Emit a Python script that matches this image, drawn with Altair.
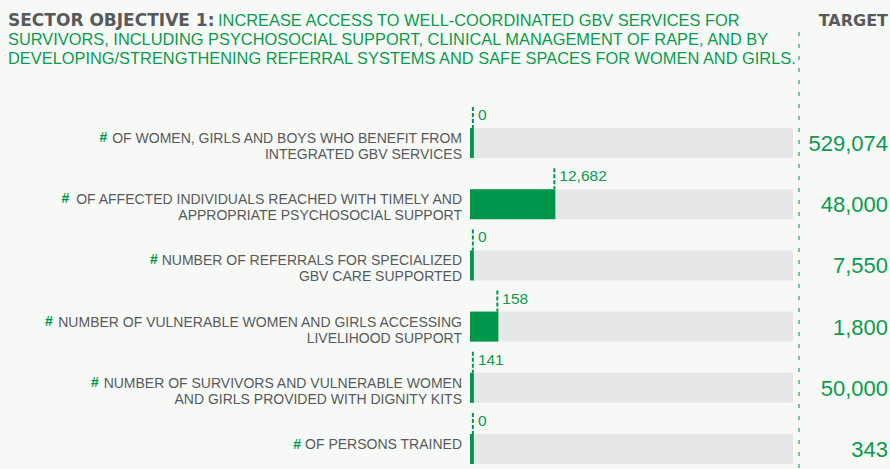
import altair as alt
import pandas as pd

# ---- data ----
label_lines = [
    ["OF WOMEN, GIRLS AND BOYS WHO BENEFIT FROM", "INTEGRATED GBV SERVICES"],
    ["OF AFFECTED INDIVIDUALS REACHED WITH TIMELY AND", "APPROPRIATE PSYCHOSOCIAL SUPPORT"],
    ["NUMBER OF REFERRALS FOR SPECIALIZED", "GBV CARE SUPPORTED"],
    ["NUMBER OF VULNERABLE WOMEN AND GIRLS ACCESSING", "LIVELIHOOD SUPPORT"],
    ["NUMBER OF SURVIVORS AND VULNERABLE WOMEN", "AND GIRLS PROVIDED WITH DIGNITY KITS"],
    ["OF PERSONS TRAINED"],
]
reached = [0, 12682, 0, 158, 141, 0]
targets = [529074, 48000, 7550, 1800, 50000, 343]

title_bold = "SECTOR OBJECTIVE 1:"
title_lines = [
    "INCREASE ACCESS TO WELL-COORDINATED GBV SERVICES FOR",
    "SURVIVORS, INCLUDING PSYCHOSOCIAL SUPPORT, CLINICAL MANAGEMENT OF RAPE, AND BY",
    "DEVELOPING/STRENGTHENING REFERRAL SYSTEMS AND SAFE SPACES FOR WOMEN AND GIRLS.",
]
target_header = "TARGET"

GREEN = "#00964b"
GREEN_TXT = "#0c9b4e"
GREY_TXT = "#58595b"
TRACK = "#e6e7e9"
BG = "#f6f9f6"

LABEL_FS = 14
LABEL_RIGHT = 462

# Arial / Liberation Sans advance widths (per 1000 em) to place the green "#"
W = {c: 667 for c in "ABEKPSVXY"}
W.update({"C": 722, "D": 722, "H": 722, "N": 722, "R": 722, "U": 722, "F": 611,
          "T": 611, "Z": 611, "G": 778, "O": 778, "Q": 778, "I": 278, "J": 500,
          "L": 556, "M": 833, "W": 944, " ": 278, ",": 278, ".": 278, "/": 278,
          "-": 333, ":": 278, "#": 556})


def text_width(s, fs):
    return sum(W.get(ch, 600) for ch in s) * fs / 1000.0


MIN_SHARE = 0.012
rows = []
for i, (lines, a, t) in enumerate(zip(label_lines, reached, targets)):
    share = a / t
    rows.append({
        "row": i,
        "label": "\n".join(lines),
        "nlines": len(lines),
        "hash_x": LABEL_RIGHT - text_width(lines[0], LABEL_FS) - text_width(" ", LABEL_FS),
        "start": 0.0,
        "full": 1.0,
        "share": max(share, MIN_SHARE),
        "reached_txt": f"{a:,}",
        "target_txt": f"{t:,}",
    })
df = pd.DataFrame(rows)

xs = alt.Scale(domain=[0, 1], range=[470, 793])
ys = alt.Scale(domain=[0, 5], range=[143, 449])

base = alt.Chart(df)

track = base.mark_rect(color=TRACK, yOffset=-15, y2Offset=15).encode(
    x=alt.X("start:Q", scale=xs, axis=None),
    x2="full:Q",
    y=alt.Y("row:Q", scale=ys, axis=None),
    y2="row:Q",
)

progress = base.mark_rect(color=GREEN, yOffset=-15, y2Offset=15).encode(
    x=alt.X("start:Q", scale=xs, axis=None),
    x2="share:Q",
    y=alt.Y("row:Q", scale=ys, axis=None),
    y2="row:Q",
)

ticks = base.mark_rule(color=GREEN, strokeWidth=2, strokeDash=[4, 2],
                       yOffset=-36, y2Offset=-15, xOffset=-1).encode(
    x=alt.X("share:Q", scale=xs, axis=None),
    y=alt.Y("row:Q", scale=ys, axis=None),
    y2="row:Q",
)

reached_lbl = base.mark_text(align="left", baseline="middle", dx=4, dy=-28,
                             fontSize=15.5, font="Liberation Sans", color=GREEN_TXT).encode(
    x=alt.X("share:Q", scale=xs, axis=None),
    y=alt.Y("row:Q", scale=ys, axis=None),
    text="reached_txt:N",
)

labels = base.mark_text(align="right", baseline="middle", lineBreak="\n", lineHeight=16,
                        dy=-4, fontSize=LABEL_FS, font="Liberation Sans", color=GREY_TXT).encode(
    x=alt.value(LABEL_RIGHT),
    y=alt.Y("row:Q", scale=ys, axis=None),
    text="label:N",
)

hash2 = base.transform_filter("datum.nlines == 2").mark_text(
    align="right", baseline="middle", dy=-5, fontSize=LABEL_FS, fontWeight="bold",
    font="Liberation Sans", color=GREEN).encode(
    x=alt.X("hash_x:Q", scale=None),
    y=alt.Y("row:Q", scale=ys, axis=None),
    text=alt.value("#"),
)
hash1 = base.transform_filter("datum.nlines == 1").mark_text(
    align="right", baseline="middle", dy=-4, fontSize=LABEL_FS, fontWeight="bold",
    font="Liberation Sans", color=GREEN).encode(
    x=alt.X("hash_x:Q", scale=None),
    y=alt.Y("row:Q", scale=ys, axis=None),
    text=alt.value("#"),
)

target_lbl = base.mark_text(align="right", baseline="middle", dy=1, fontSize=22,
                            font="Liberation Sans", color=GREEN_TXT).encode(
    x=alt.value(888),
    y=alt.Y("row:Q", scale=ys, axis=None),
    text="target_txt:N",
)

one = alt.Chart(pd.DataFrame({"k": [0]}))

divider = one.mark_rule(color="#2f9a5c", strokeWidth=1.2, strokeDash=[4, 8]).encode(
    x=alt.value(799), y=alt.value(32), y2=alt.value(469))

head_bold = one.mark_text(align="left", baseline="alphabetic", fontSize=17,
                          fontWeight="bold", font="DejaVu Sans", color=GREY_TXT).encode(
    x=alt.value(8), y=alt.value(26), text=alt.value(title_bold))

head_lines = []
for j, (xp, yp) in enumerate([(218, 26), (8, 45), (8, 64)]):
    head_lines.append(one.mark_text(align="left", baseline="alphabetic", fontSize=16.4,
                                    font="Liberation Sans", color=GREEN_TXT).encode(
        x=alt.value(xp), y=alt.value(yp), text=alt.value(title_lines[j])))

head_target = one.mark_text(align="right", baseline="alphabetic", fontSize=16,
                            fontWeight="bold", font="DejaVu Sans", color=GREY_TXT).encode(
    x=alt.value(888), y=alt.value(26), text=alt.value(target_header))

chart = alt.layer(
    divider, track, progress, ticks, reached_lbl, labels, hash2, hash1, target_lbl,
    head_bold, *head_lines, head_target,
).properties(
    width=890, height=469, autosize="none", padding=0, background=BG,
).configure_view(strokeWidth=0)

chart.save("out.html", embed_options={"renderer": "svg", "actions": False})
